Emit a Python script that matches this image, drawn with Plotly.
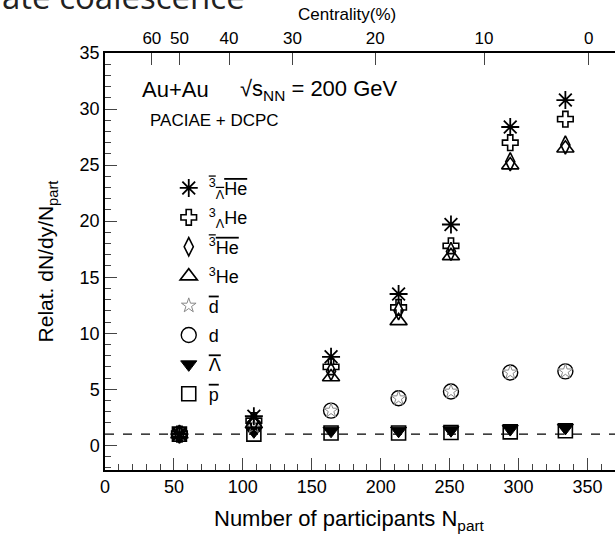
import plotly.graph_objects as go

# ---------------- data ----------------
npart = [54, 108, 164, 213, 251, 294, 334]
lamhe3_bar = [1.0, 2.6, 7.9, 13.5, 19.7, 28.4, 30.8]   # anti-hypertriton
lamhe3 = [1.0, 2.2, 7.0, 12.3, 17.8, 27.0, 29.1]       # hypertriton
he3_bar = [1.0, 2.1, 6.6, 12.0, 17.3, 25.3, 26.8]
he3 = [1.0, 1.9, 6.1, 11.1, 16.9, 25.0, 26.5]
d_bar = [1.0, 1.7, 3.1, 4.2, 4.8, 6.5, 6.6]
d = [1.0, 1.7, 3.1, 4.2, 4.8, 6.5, 6.6]
lam_bar = [1.0, 1.25, 1.3, 1.3, 1.35, 1.45, 1.55]
p_bar = [1.0, 1.0, 1.1, 1.1, 1.15, 1.2, 1.3]
ref_level = 1.0

cent_npart = [34, 54, 90, 136, 196, 275, 351]
cent_labels = ["60", "50", "40", "30", "20", "10", "0"]
x_ticks = [0, 50, 100, 150, 200, 250, 300, 350]
x_range = [0, 370]
y_range = [-2.2, 35]

FONT = "Liberation Sans, Arial, Helvetica, sans-serif"
OL = '<span style="text-decoration:overline">%s</span>'

series = [
    # name, values, symbol, size, color, line width
    (OL % "<sup>3</sup><sub>Λ</sub>He", lamhe3_bar, "asterisk-open", 15, "black", 1.8),
    ("<sup>3</sup><sub>Λ</sub>He", lamhe3, "cross-open", 13, "black", 1.6),
    (OL % "<sup>3</sup>He", he3_bar, "diamond-tall-open", 13, "black", 1.6),
    ("<sup>3</sup>He", he3, "triangle-up-open", 15, "black", 1.6),
    (OL % "d", d_bar, "star-open", 11, "#888888", 1.0),
    ("d", d, "circle-open", 15, "black", 1.4),
    (OL % "Λ", lam_bar, "triangle-down", 14, "black", 1.0),
    (OL % "p", p_bar, "square-open", 14, "black", 1.6),
]

fig = go.Figure()
for rank, (name, vals, sym, size, col, lw) in reversed(list(enumerate(series))):
    fig.add_trace(go.Scatter(
        x=npart, y=vals, mode="markers", name=name,
        legendgroup=str(rank), legendrank=rank + 1,
        marker=dict(symbol=sym, size=size, color=col,
                    line=dict(color=col, width=lw)),
        hoverinfo="skip",
    ))

# reference line (also anchors the top centrality axis)
fig.add_trace(go.Scatter(
    x=x_range, y=[ref_level, ref_level], mode="lines", xaxis="x2",
    line=dict(color="black", width=1.3, dash="dash"),
    showlegend=False, hoverinfo="skip"))

fig.update_layout(
    width=615, height=537,
    margin=dict(l=105, r=0, t=53, b=67),
    paper_bgcolor="white", plot_bgcolor="white",
    font=dict(family=FONT, size=18, color="black"),
    showlegend=True,
    legend=dict(x=0.125, y=0.72, xanchor="left", yanchor="top",
                bgcolor="rgba(0,0,0,0)", font=dict(size=18),
                tracegroupgap=3, itemclick=False),
    xaxis=dict(range=x_range, tickvals=x_ticks, ticks="inside", ticklen=12,
               tickwidth=1.3, showline=True, linecolor="black", linewidth=1.5,
               showgrid=False, zeroline=False, mirror=False,
               minor=dict(dtick=10, ticks="inside", ticklen=6, tickwidth=1.2),
               tickfont=dict(size=18)),
    xaxis2=dict(range=x_range, overlaying="x", side="top",
                tickvals=cent_npart, ticktext=cent_labels, ticks="inside",
                ticklen=12, tickwidth=1.3, showline=True, linecolor="black",
                linewidth=1.5, showgrid=False, zeroline=False,
                tickfont=dict(size=17)),
    yaxis=dict(range=y_range, tickvals=[0, 5, 10, 15, 20, 25, 30, 35],
               ticks="inside", ticklen=12, tickwidth=1.3, showline=True,
               linecolor="black", linewidth=1.5, showgrid=False,
               zeroline=False, mirror=False,
               minor=dict(dtick=1, ticks="inside", ticklen=6, tickwidth=1.2),
               title=dict(text="Relat. dN/dy/N<sub>part</sub>",
                          font=dict(size=21), standoff=20),
               tickfont=dict(size=18)),
)

annos = [
    dict(text="Au+Au", x=0.068, y=0.912, font=dict(size=22)),
    dict(text="√s<sub>NN</sub> = 200 GeV", x=0.26, y=0.912, font=dict(size=22)),
    dict(text="PACIAE + DCPC", x=0.084, y=0.838, font=dict(size=17)),
]
for a in annos:
    fig.add_annotation(xref="paper", yref="paper", xanchor="left",
                       yanchor="middle", showarrow=False, **a)

# axis titles as annotations for exact placement
fig.add_annotation(text="Centrality(%)", xref="paper", yref="paper",
                   x=0.475, y=1.0, yshift=39, xanchor="center",
                   yanchor="middle", showarrow=False, font=dict(size=17))
fig.add_annotation(text="Number of participants N<sub>part</sub>",
                   xref="paper", yref="paper", x=0.48, y=0.0, yshift=-50,
                   xanchor="center", yanchor="middle", showarrow=False,
                   font=dict(size=22))

# partial slide title cut at the top of the picture
fig.add_annotation(text="ate coalescence", xref="paper", yref="paper",
                   x=-0.206, y=1.077, xanchor="left", yanchor="bottom",
                   showarrow=False,
                   font=dict(family="Open Sans, sans-serif", size=33,
                             color="#222222"))

fig.write_html("out.html")
